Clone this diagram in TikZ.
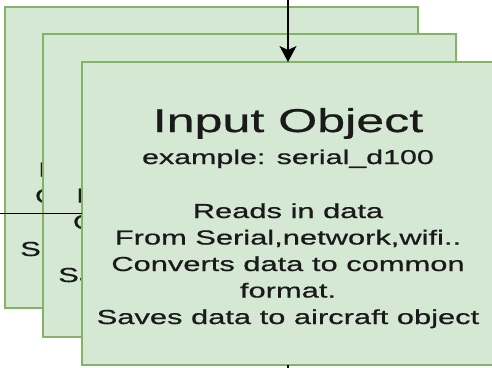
\documentclass[tikz,border=0pt]{standalone}
\usepackage{fontspec}
\newfontfamily\arl{Liberation Sans}[FakeStretch=1.52,FakeBold=0.7]
\usetikzlibrary{calc,arrows.meta}
\definecolor{gfill}{HTML}{D5E8D4}
\definecolor{gline}{HTML}{82B366}
\definecolor{ink}{HTML}{1A1A1A}
\tikzset{
  objbox/.style={draw=gline, fill=gfill, line width=1.6pt, rectangle, inner sep=0pt, outer sep=0pt},
  ttl/.style={anchor=base, inner sep=0pt, text=ink, font=\arl\fontsize{33}{36}\selectfont},
  sub/.style={anchor=base, inner sep=0pt, text=ink, font=\arl\fontsize{20}{24}\selectfont},
  bod/.style={anchor=base, inner sep=0pt, text=ink, font=\arl\fontsize{20.3}{24}\selectfont},
  conn/.style={line width=1.3pt, black}
}
% lines of a back box that show past the boxes in front of it
\newcommand\backtext[2]{%
  \node[bod] (#1-b) at ($(#1.north)+(0,#2+26.5)$) {From Serial,network,wifi..};
  \node[bod] (#1-c) at ($(#1.north)+(0,#2+53)$) {Converts data to common};
  \node[bod] (#1-f) at ($(#1.north)+(0,#2+106)$) {Saves data to aircraft object};
}
\begin{document}
\begin{tikzpicture}[x=1pt,y=-1pt]
\useasboundingbox (0,0) rectangle (492,367);
\clip (0,0) rectangle (492,367);
\node[objbox, minimum width=413pt, minimum height=301pt] (b1) at (211.5,157.5) {};
\backtext{b1}{143}
\node[objbox, minimum width=413pt, minimum height=303pt] (b2) at (249.5,185.5) {};
\backtext{b2}{142}
\coordinate (lin) at (-5,213.5);
\coordinate (top) at (288,-5);
\coordinate (bot) at (288,375);
\node[objbox, minimum width=412pt, minimum height=303pt] (b3) at (288,213.5) {};
\node[ttl] (b3-t) at ($(b3.north)+(0,70)$) {Input Object};
\node[sub] (b3-e) at ($(b3.north)+(0,102)$) {example: serial\_d100};
\node[bod] (b3-a) at ($(b3.north)+(0,156)$) {Reads in data};
\node[bod] (b3-b) at ($(b3.north)+(0,182.5)$) {From Serial,network,wifi..};
\node[bod] (b3-c) at ($(b3.north)+(0,209)$) {Converts data to common};
\node[bod] (b3-d) at ($(b3.north)+(0,235.5)$) {format.};
\node[bod] (b3-f) at ($(b3.north)+(0,262)$) {Saves data to aircraft object};
\draw[conn] (lin) -- (b3.west);
\draw[conn, -{Stealth[length=16pt, width=17pt, inset=4pt]}] (top) -- (b3.north);
\draw[conn] (b3.south) -- (bot);
\end{tikzpicture}
\end{document}
